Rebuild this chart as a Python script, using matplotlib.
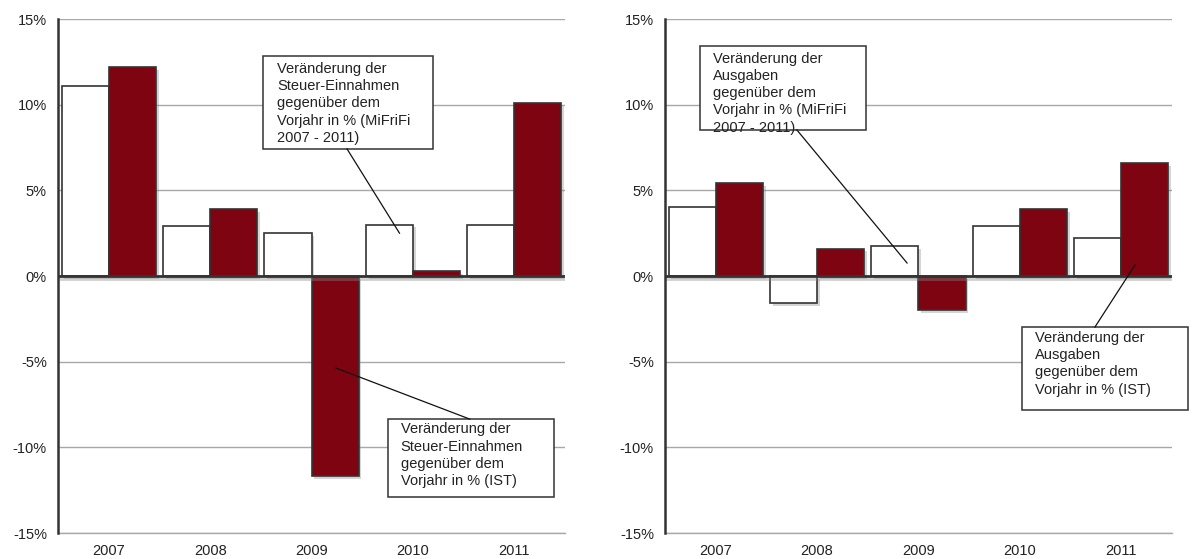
import matplotlib

matplotlib.use("Agg")
import matplotlib.pyplot as plt  # noqa: E402
import matplotlib.patheffects as pe  # noqa: E402
import numpy as np  # noqa: E402
from matplotlib.patches import Rectangle  # noqa: E402
from matplotlib.ticker import FuncFormatter  # noqa: E402

plt.rcParams["font.family"] = ["Liberation Sans", "DejaVu Sans"]

years = ["2007", "2008", "2009", "2010", "2011"]

# Steuer-Einnahmen, change vs previous year in %
einnahmen_mifrifi = [11.1, 2.9, 2.5, 3.0, 3.0]
einnahmen_ist = [12.2, 3.9, -11.7, 0.3, 10.1]

# Ausgaben, change vs previous year in %
ausgaben_mifrifi = [4.0, -1.6, 1.75, 2.9, 2.2]
ausgaben_ist = [5.4, 1.6, -2.0, 3.9, 6.6]

DARK_RED = "#7d0410"
EDGE = "#333333"
GRID = "#a8a8a8"
W = 0.465
FS = 10.5

shadow = [pe.SimplePatchShadow(offset=(2, -2), shadow_rgbFace="#888888", alpha=0.35), pe.Normal()]


def callout(ax, box, text_xy, text, line_from, line_to):
    """Rectangular label box plus a thin leader line (all in data coords)."""
    x0, y0, x1, y1 = box
    ax.add_patch(Rectangle((x0, y0), x1 - x0, y1 - y0, facecolor="white",
                           edgecolor=EDGE, lw=1.1, clip_on=False, zorder=5))
    ax.text(*text_xy, text, fontsize=FS, color="#222222", va="top", ha="left",
            linespacing=1.3, zorder=6, clip_on=False)
    ax.plot([line_from[0], line_to[0]], [line_from[1], line_to[1]], color="#111111",
            lw=0.9, zorder=7, clip_on=False)


def bar_panel(ax, plan, actual):
    x = np.arange(len(years))
    ax.bar(x - W / 2, plan, W, color="white", edgecolor=EDGE, lw=1.2, zorder=3,
           path_effects=shadow)
    ax.bar(x + W / 2, actual, W, color=DARK_RED, edgecolor=EDGE, lw=1.2, zorder=3,
           path_effects=shadow)
    ax.set_xlim(-0.5, len(years) - 0.5)
    ax.set_ylim(-15, 15)
    ax.set_yticks(range(-15, 16, 5))
    ax.yaxis.set_major_formatter(FuncFormatter(lambda v, _: f"{v:.0f}%"))
    ax.set_xticks(x, years)
    ax.tick_params(length=0, labelsize=FS, colors="#222222")
    ax.tick_params(axis="y", pad=8)
    ax.tick_params(axis="x", pad=8)
    for s in ["top", "right"]:
        ax.spines[s].set_visible(False)
    ax.spines["bottom"].set_color(GRID)
    ax.spines["bottom"].set_linewidth(1.0)
    ax.spines["left"].set_color(EDGE)
    ax.spines["left"].set_linewidth(1.8)
    ax.spines["left"].set_zorder(4)
    ax.grid(axis="y", color=GRID, lw=1.0, zorder=0)
    ax.axhline(0, color=EDGE, lw=2.0, zorder=4,
               path_effects=[pe.SimpleLineShadow(offset=(1.5, -2), shadow_color="#888888", alpha=0.4),
                             pe.Normal()])


fig = plt.figure(figsize=(11.92, 5.59), dpi=100)
ax1 = fig.add_axes([0.0487, 0.0465, 0.4253, 0.9195])
ax2 = fig.add_axes([0.5579, 0.0465, 0.4253, 0.9195])

bar_panel(ax1, einnahmen_mifrifi, einnahmen_ist)
bar_panel(ax2, ausgaben_mifrifi, ausgaben_ist)

callout(ax1, (1.522, 7.42, 3.198, 12.85), (1.66, 12.5),
        "Veränderung der\nSteuer-Einnahmen\ngegenüber dem\nVorjahr in % (MiFriFi\n2007 - 2011)",
        (2.35, 7.42), (3 - W / 2 + 0.1, einnahmen_mifrifi[3] - 0.5))
callout(ax1, (2.754, -12.91, 4.39, -8.35), (2.88, -8.55),
        "Veränderung der\nSteuer-Einnahmen\ngegenüber dem\nVorjahr in % (IST)",
        (3.56, -8.35), (2.24, -5.37))

callout(ax2, (-0.155, 8.53, 1.482, 13.43), (-0.027, 13.1),
        "Veränderung der\nAusgaben\ngegenüber dem\nVorjahr in % (MiFriFi\n2007 - 2011)",
        (0.80, 8.53), (1.887, 0.76))
callout(ax2, (3.02, -7.83, 4.66, -2.98), (3.149, -3.2),
        "Veränderung der\nAusgaben\ngegenüber dem\nVorjahr in % (IST)",
        (3.74, -2.98), (4.135, 0.64))

fig.savefig("out.png", dpi=100)
plt.close(fig)
